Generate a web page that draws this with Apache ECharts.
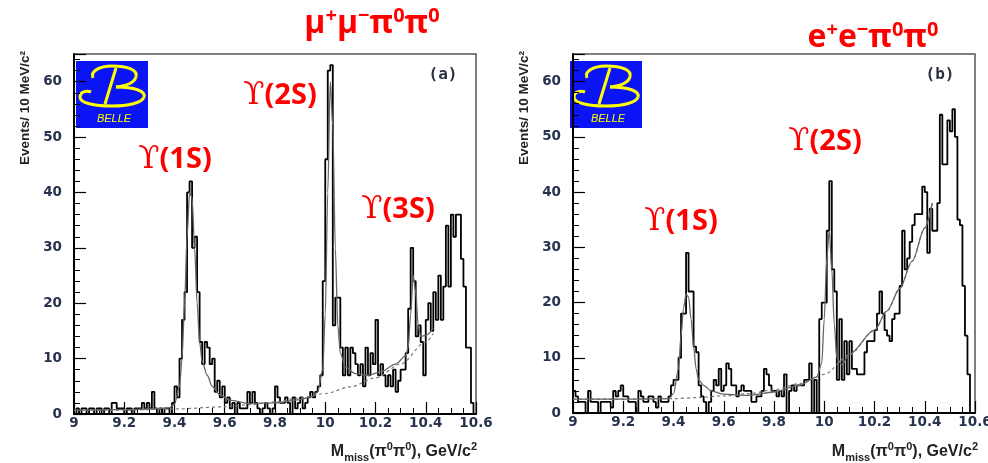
<!DOCTYPE html>
<html><head><meta charset="utf-8">
<script src="https://cdn.jsdelivr.net/npm/echarts@6/dist/echarts.min.js"></script>
<style>html,body{margin:0;padding:0;background:#fff;}#c{width:988px;height:463px;}</style>
</head><body><div id="c"></div>
<script>
// ---------------- data ----------------
const binStart = 9.0;      // GeV/c^2, left edge of first bin
const binWidth = 0.01;     // 10 MeV bins
const xMin = 9.0, xMax = 10.6, yMin = 0, yMax = 65;

// (a) mu+ mu- pi0 pi0 : events per 10 MeV bin, 9.00 .. 10.60
const histA = [
  0,1,0,1,1,0,1,1,0,1,
  1,0,1,1,0,2,2,1,1,1,
  0,1,1,0,1,1,1,2,1,2,
  1,4,1,0,1,0,1,1,0,2,
  5,3,10,17,22,40,42,30,32,22,
  13,9,13,12,9,10,4,6,3,5,
  2,3,1,2,0,2,1,1,1,4,
  2,4,2,1,0,1,2,1,0,1,
  5,3,2,2,3,2,0,3,1,2,
  3,1,2,3,4,3,4,5,7,24,
  46,62,63,16,21,21,12,7,12,7,
  12,11,9,7,9,5,12,7,11,9,
  17,7,9,7,5,7,5,8,4,6,
  8,8,11,19,30,24,14,16,13,7,
  17,20,15,22,17,25,17,23,34,23,
  36,32,36,36,28,23,12,12,2,0
];
// (b) e+ e- pi0 pi0
const histB = [
  4,3,2,2,2,0,4,2,2,2,
  0,2,2,2,2,1,4,3,4,5,
  3,3,2,2,2,0,4,3,2,2,
  3,3,2,1,3,2,2,2,3,5,
  6,6,10,18,18,29,22,22,12,11,
  5,3,2,0,2,4,6,5,8,4,
  5,9,8,5,5,3,4,5,4,4,
  4,2,2,3,3,4,8,7,5,4,
  4,3,4,3,7,0,4,5,4,5,
  5,5,6,6,9,0,6,0,17,20,
  20,33,42,26,22,6,17,6,13,7,
  13,8,8,7,7,7,11,13,13,13,
  15,18,22,18,15,14,13,17,18,18,
  23,33,26,28,31,34,36,36,36,41,
  40,29,37,33,33,38,54,45,45,53,
  51,55,50,35,34,23,14,7,0,0
];
// fit curves: [mass, events]
const fitA = [[9.00,0.7],[9.10,0.75],[9.20,0.8],[9.30,0.9],[9.38,1.1],[9.40,1.8],[9.42,5],[9.43,10],[9.44,20],[9.45,32],[9.46,40],[9.47,39],[9.48,30],[9.49,20],[9.50,13],[9.51,9.5],[9.53,7],[9.55,5],[9.58,3.5],[9.62,2.5],[9.70,1.9],[9.80,2.0],[9.90,2.6],[9.95,3.2],[9.97,4],[9.99,8],[10.00,18],[10.01,40],[10.02,60],[10.03,52],[10.04,30],[10.05,16],[10.06,11],[10.08,8.5],[10.12,7.3],[10.17,7],[10.22,7.6],[10.28,9],[10.32,10.5],[10.33,12],[10.34,18],[10.35,25],[10.36,22],[10.37,16],[10.38,14],[10.40,14.2],[10.43,15.5]];
const bkgA = [[9.0,0.6],[9.2,0.7],[9.4,0.9],[9.6,1.3],[9.7,1.7],[9.8,2.2],[9.9,2.9],[10.0,3.7],[10.1,4.9],[10.2,6.5],[10.3,9],[10.4,13],[10.43,14.5]];
const fitB = [[9.00,2.5],[9.20,2.5],[9.38,2.6],[9.40,3.5],[9.42,8],[9.43,14],[9.44,19],[9.45,21.5],[9.46,21],[9.47,17],[9.48,12],[9.49,8],[9.50,6],[9.52,5],[9.55,4],[9.60,3.4],[9.70,3.2],[9.80,3.8],[9.90,5],[9.97,6.5],[9.99,9],[10.00,17],[10.01,28],[10.02,33],[10.03,26],[10.04,16],[10.05,10],[10.07,8.7],[10.10,10.7],[10.20,15],[10.25,18.5],[10.30,22.5],[10.35,27.5],[10.40,33.5],[10.43,38]];
const bkgB = [[9.0,2.5],[9.2,2.5],[9.4,2.6],[9.5,2.8],[9.6,3.1],[9.7,3.5],[9.8,4.2],[9.9,5.3],[10.0,7],[10.1,10.5],[10.2,15],[10.25,18.5],[10.3,22.5],[10.35,27.5],[10.4,33.5],[10.43,38]];

const panelTags = ['(a)', '(b)'];
const yTitle = 'Events/ 10 MeV/c²';
const xTitle = '{m|M}{sub|miss}{m|(π}{sup|0}{m|π}{sup|0}{m|), GeV/c}{sup|2}';
const titleA = '{b|μ}{s|+}{b|μ}{s|−}{b|π}{s|0}{b|π}{s|0}';
const titleB = '{b|e}{s|+}{b|e}{s|−}{b|π}{s|0}{b|π}{s|0}';
const peaksA = ['1S','2S','3S'];
const peaksB = ['1S','2S'];
const logoText = 'BELLE';

// ---------------- build ----------------
function histData(h){
  const d = h.map((v,i)=>[+(binStart + i*binWidth).toFixed(2), v]);
  d.push([xMax, h[h.length-1]]);
  return d;
}
const tickColor = '#27324f';
function xAxisCfg(gi){
  return {type:'value', gridIndex:gi, min:xMin, max:xMax, interval:0.2,
    axisLine:{show:true, onZero:false, lineStyle:{color:'#000', width:2}},
    axisTick:{show:true, inside:true, length:12, lineStyle:{color:'#000', width:1.2}},
    minorTick:{show:true, splitNumber:4, length:6, lineStyle:{color:'#000', width:1}},
    splitLine:{show:false}, minorSplitLine:{show:false},
    axisLabel:{fontFamily:'DejaVu Sans', fontWeight:'bold', fontSize:13.5, color:tickColor, margin:2}};
}
function yAxisCfg(gi){
  return {type:'value', gridIndex:gi, min:yMin, max:yMax, interval:10,
    axisLine:{show:true, onZero:false, lineStyle:{color:'#000', width:2}},
    axisTick:{show:true, inside:true, length:12, lineStyle:{color:'#000', width:1.2}},
    minorTick:{show:true, splitNumber:5, length:6, lineStyle:{color:'#000', width:1}},
    splitLine:{show:false}, minorSplitLine:{show:false},
    axisLabel:{fontFamily:'DejaVu Sans', fontWeight:'bold', fontSize:13.5, color:tickColor, margin:12, showMaxLabel:false}};
}
function histSeries(gi, h){
  return {type:'line', xAxisIndex:gi, yAxisIndex:gi, step:'end', data:histData(h), symbol:'none',
    lineStyle:{color:'#000', width:1.8}, z:3, silent:true};
}
function curve(gi, d, dashed){
  return {type:'line', xAxisIndex:gi, yAxisIndex:gi, data:d, symbol:'none', smooth:0.3, smoothMonotone:'x',
    lineStyle:{color: dashed ? '#777' : '#666', width: dashed ? 1.2 : 1.3, type: dashed ? [3,3] : 'solid'}, z:4, silent:true};
}
const yel = {fill:null, stroke:'#ffff00', lineWidth:3};
function bz(x1,y1,c1x,c1y,c2x,c2y,x2,y2){
  return {type:'bezierCurve', shape:{x1:x1,y1:y1,cpx1:c1x,cpy1:c1y,cpx2:c2x,cpy2:c2y,x2:x2,y2:y2}, style:yel};
}
function logo(x, y){
  return {type:'group', x:x, y:y, z:100, children:[
    {type:'rect', shape:{x:0,y:0,width:72,height:67}, style:{fill:'#0a14f5'}},
    bz(17,17, 14,10, 24,5, 36,5),
    bz(36,5, 52,5, 62,9, 60,16),
    bz(60,16, 58,22, 50,25, 40,26),
    {type:'line', shape:{x1:40,y1:7,x2:29,y2:43}, style:yel},
    bz(40,26, 58,26, 70,30, 68,36),
    bz(68,36, 66,42, 52,45, 36,45),
    bz(36,45, 18,45, 4,42, 4,36),
    bz(4,36, 4,31, 10,29, 15,31),
    {type:'text', x:38, y:57.5, style:{text:logoText, font:'italic 11px "Liberation Sans"', fill:'#ffff00', align:'center', verticalAlign:'middle', textAlign:'center', textVerticalAlign:'middle'}}
  ]};
}
function peakLabel(name, x, y){
  return {type:'text', x:x, y:y, z:100, style:{text:'{u|ϒ}{p|(' + name + ')}', align:'center', verticalAlign:'middle', textAlign:'center', textVerticalAlign:'middle',
    rich:{u:{fontFamily:'DejaVu Serif', fontSize:31, fill:'#ff0000', lineHeight:36},
          p:{fontFamily:'Open Sans', fontWeight:'bold', fontSize:29, fill:'#ff0000', lineHeight:36}}}};
}
function titleText(t, x, y){
  return {type:'text', x:x, y:y, z:100, style:{text:t, align:'center', verticalAlign:'middle', textAlign:'center', textVerticalAlign:'middle',
    rich:{b:{fontFamily:'Open Sans', fontWeight:'bold', fontSize:32, fill:'#ff0000', lineHeight:36},
          s:{fontFamily:'Open Sans', fontWeight:'bold', fontSize:20, fill:'#ff0000', lineHeight:18, verticalAlign:'top'}}}};
}
function yTitleText(x, y){
  return {type:'text', x:x, y:y, rotation:Math.PI/2, z:100, style:{text:yTitle, font:'bold 13.5px "Liberation Sans"', fill:'#222',
    align:'center', verticalAlign:'middle', textAlign:'center', textVerticalAlign:'middle'}};
}
function xTitleText(x, y){
  return {type:'text', x:x, y:y, z:100, style:{text:xTitle, align:'right', verticalAlign:'middle', textAlign:'right', textVerticalAlign:'middle',
    rich:{m:{fontFamily:'Liberation Sans', fontWeight:'bold', fontSize:16, fill:'#222', lineHeight:22},
          sub:{fontFamily:'Liberation Sans', fontWeight:'bold', fontSize:11, fill:'#222', lineHeight:10, verticalAlign:'bottom'},
          sup:{fontFamily:'Liberation Sans', fontWeight:'bold', fontSize:11, fill:'#222', lineHeight:10, verticalAlign:'top'}}}};
}
function tagText(t, x, y){
  return {type:'text', x:x, y:y, z:100, style:{text:t, font:'bold 16px "DejaVu Sans Mono"', fill:'#2a2f40', align:'center', verticalAlign:'middle', textAlign:'center', textVerticalAlign:'middle'}};
}

const chart = echarts.init(document.getElementById('c'), null, {renderer:'canvas'});
chart.setOption({
  animation:false,
  backgroundColor:'#fff',
  grid:[
    {left:74, top:54, width:402, height:360, show:true, borderColor:'#555', borderWidth:1.5, backgroundColor:'transparent', containLabel:false, outerBoundsMode:'none'},
    {left:573, top:54, width:402, height:359, show:true, borderColor:'#555', borderWidth:1.5, backgroundColor:'transparent', containLabel:false, outerBoundsMode:'none'}
  ],
  xAxis:[xAxisCfg(0), xAxisCfg(1)],
  yAxis:[yAxisCfg(0), yAxisCfg(1)],
  series:[
    histSeries(0, histA), curve(0, bkgA, true), curve(0, fitA, false),
    histSeries(1, histB), curve(1, bkgB, true), curve(1, fitB, false)
  ],
  graphic:[
    logo(76, 61), logo(570, 61),
    tagText(panelTags[0], 443, 75), tagText(panelTags[1], 940, 75),
    yTitleText(25, 108), yTitleText(524, 108),
    xTitleText(477, 452), xTitleText(978, 452),
    titleText(titleA, 372, 24), titleText(titleB, 873, 38),
    peakLabel(peaksA[0], 175, 160), peakLabel(peaksA[1], 280, 96), peakLabel(peaksA[2], 398, 210),
    peakLabel(peaksB[0], 681, 222), peakLabel(peaksB[1], 825, 142)
  ]
});
</script>
</body></html>
